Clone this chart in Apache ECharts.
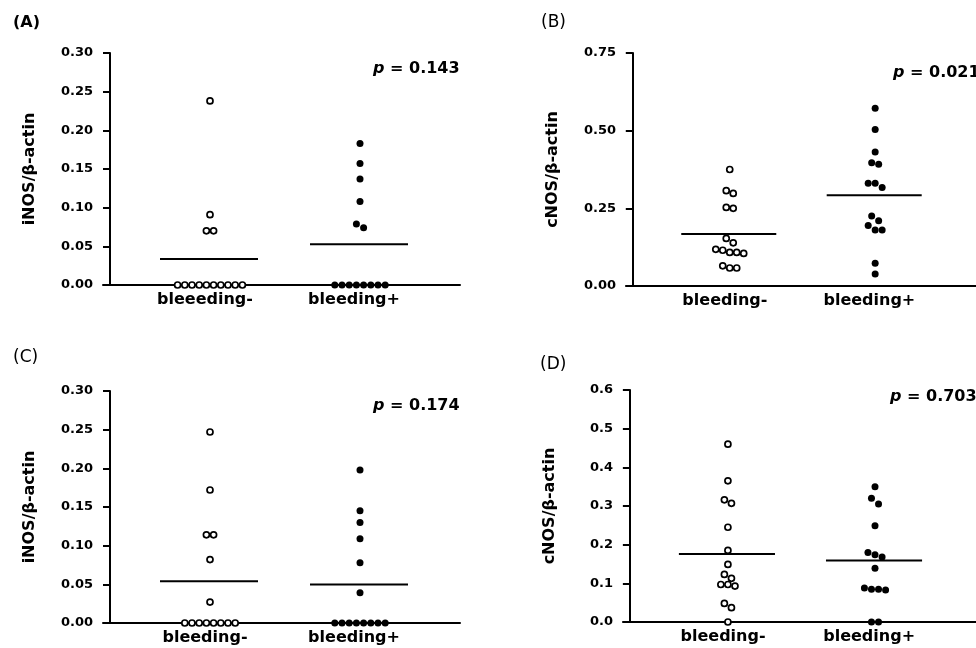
<!DOCTYPE html>
<html>
<head>
<meta charset="UTF-8">
<title>iNOS / cNOS</title>
<script src="https://cdn.jsdelivr.net/npm/echarts@6/dist/echarts.min.js"></script>
<style>html,body{margin:0;background:#fff}#main{width:976px;height:648px}</style>
</head>
<body>
<div id="main"></div>
<script>
// values (open = bleeding-, filled = bleeding+)
const aNeg = [0.238, 0.091, 0.070, 0.070, 0, 0, 0, 0, 0, 0, 0, 0, 0, 0];
const aPos = [0.183, 0.157, 0.137, 0.108, 0.079, 0.074, 0, 0, 0, 0, 0, 0, 0, 0];
const bNeg = [0.375, 0.307, 0.298, 0.253, 0.250, 0.153, 0.139, 0.118, 0.115, 0.108, 0.108, 0.105, 0.065, 0.058, 0.058];
const bPos = [0.572, 0.504, 0.431, 0.397, 0.392, 0.331, 0.331, 0.317, 0.225, 0.210, 0.195, 0.180, 0.180, 0.073, 0.039];
const cNeg = [0.247, 0.172, 0.114, 0.114, 0.082, 0.027, 0, 0, 0, 0, 0, 0, 0, 0];
const cPos = [0.198, 0.145, 0.130, 0.109, 0.078, 0.039, 0, 0, 0, 0, 0, 0, 0, 0];
const dNeg = [0.460, 0.365, 0.316, 0.307, 0.245, 0.185, 0.149, 0.123, 0.113, 0.097, 0.093, 0.097, 0.048, 0.037, 0];
const dPos = [0.350, 0.320, 0.305, 0.249, 0.180, 0.174, 0.168, 0.139, 0.088, 0.085, 0.083, 0.085, 0, 0];

const catsA = ['bleeeding-', 'bleeding+'];
const cats = ['bleeding-', 'bleeding+'];
const pValues = ['0.143', '0.021', '0.174', '0.703'];
const tags = ['(A)', '(B)', '(C)', '(D)'];
const yNames = ['iNOS/β-actin', 'cNOS/β-actin', 'iNOS/β-actin', 'cNOS/β-actin'];

const FONT = 'DejaVu Sans';
const panels = [
  { neg: aNeg, pos: aPos, cats: catsA, max: 0.30, step: 0.05, dec: 2, left: 103, top: 53, width: 357, height: 232, xMax: 3.5, tagX: 13, tagY: 23, bold: true, pX: 373, pY: 69 },
  { neg: bNeg, pos: bPos, cats: cats, max: 0.75, step: 0.25, dec: 2, left: 626, top: 53, width: 361, height: 233, xMax: 3.54, tagX: 541, tagY: 23, bold: false, pX: 893, pY: 73 },
  { neg: cNeg, pos: cPos, cats: cats, max: 0.30, step: 0.05, dec: 2, left: 103, top: 391, width: 357, height: 232, xMax: 3.5, tagX: 13, tagY: 358, bold: false, pX: 373, pY: 406 },
  { neg: dNeg, pos: dPos, cats: cats, max: 0.6, step: 0.1, dec: 1, left: 623, top: 390, width: 360, height: 232, xMax: 3.53, tagX: 540, tagY: 365, bold: false, pX: 890, pY: 397 }
];

// spread near-equal values sideways in rows, like the original dot plot
function swarm(vals, center, pxPerUnit) {
  const s = vals.slice().sort((a, b) => b - a);
  const out = [];
  let i = 0;
  while (i < s.length) {
    let j = i + 1;
    while (j < s.length && (s[i] - s[j]) * pxPerUnit < 6) j++;
    const n = j - i;
    for (let k = 0; k < n; k++) out.push([center + (k - (n - 1) / 2) * 0.072, s[i + k]]);
    i = j;
  }
  return out;
}
const mean = arr => arr.reduce((a, b) => a + b, 0) / arr.length;

const grid = [], xAxis = [], yAxis = [], series = [], graphic = [];
panels.forEach((p, i) => {
  grid.push({ left: p.left, top: p.top, width: p.width, height: p.height });
  xAxis.push({
    type: 'value', gridIndex: i, min: -0.07, max: p.xMax,
    axisLine: { onZero: true, lineStyle: { color: '#000', width: 2 } },
    axisTick: { show: false }, splitLine: { show: false },
    axisLabel: {
      customValues: [0.95, 2.44], margin: 7,
      formatter: v => (v < 2 ? p.cats[0] : p.cats[1]),
      color: '#000', fontFamily: FONT, fontWeight: 'bold', fontSize: 16
    }
  });
  yAxis.push({
    type: 'value', gridIndex: i, min: 0, max: p.max, interval: p.step,
    name: yNames[i], nameLocation: 'middle', nameGap: 65,
    nameTextStyle: { color: '#000', fontFamily: FONT, fontWeight: 'bold', fontSize: 16 },
    axisLine: { show: true, onZero: true, lineStyle: { color: '#000', width: 2 } },
    axisTick: { show: true, length: 7, lineStyle: { color: '#000', width: 2 } },
    splitLine: { show: false },
    axisLabel: {
      margin: 10, formatter: v => v.toFixed(p.dec),
      color: '#000', fontFamily: FONT, fontWeight: 'bold', fontSize: 13
    }
  });
  const ppu = p.height / p.max;
  series.push({
    type: 'scatter', xAxisIndex: i, yAxisIndex: i, symbolSize: 6, z: 5,
    itemStyle: { color: '#fff', borderColor: '#000', borderWidth: 1.7, opacity: 1 },
    data: swarm(p.neg, 1, ppu)
  });
  series.push({
    type: 'scatter', xAxisIndex: i, yAxisIndex: i, symbolSize: 7, z: 5,
    itemStyle: { color: '#000', opacity: 1 },
    data: swarm(p.pos, 2.5, ppu)
  });
  [[p.neg, 1], [p.pos, 2.5]].forEach(([arr, c]) => {
    const m = mean(arr);
    series.push({
      type: 'line', xAxisIndex: i, yAxisIndex: i, symbol: 'none', silent: true, z: 4,
      lineStyle: { color: '#000', width: 2 },
      data: [[c - 0.5, m], [c + 0.48, m]]
    });
  });
  graphic.push({
    type: 'text', x: p.tagX, y: p.tagY,
    style: { text: tags[i], fill: '#000', fontFamily: FONT, fontSize: p.bold ? 16 : 17, fontWeight: p.bold ? 'bold' : 'normal', verticalAlign: 'middle' }
  });
  graphic.push({
    type: 'text', x: p.pX, y: p.pY,
    style: {
      text: '{i|p} = ' + pValues[i], fill: '#000', fontFamily: FONT, fontSize: 16, fontWeight: 'bold', verticalAlign: 'middle',
      rich: { i: { fontStyle: 'italic', fontFamily: FONT, fontSize: 16, fontWeight: 'bold', fill: '#000' } }
    }
  });
});

const chart = echarts.init(document.getElementById('main'), null, { renderer: 'canvas' });
chart.setOption({
  animation: false,
  backgroundColor: '#fff',
  grid, xAxis, yAxis, series, graphic
});
</script>
</body>
</html>
